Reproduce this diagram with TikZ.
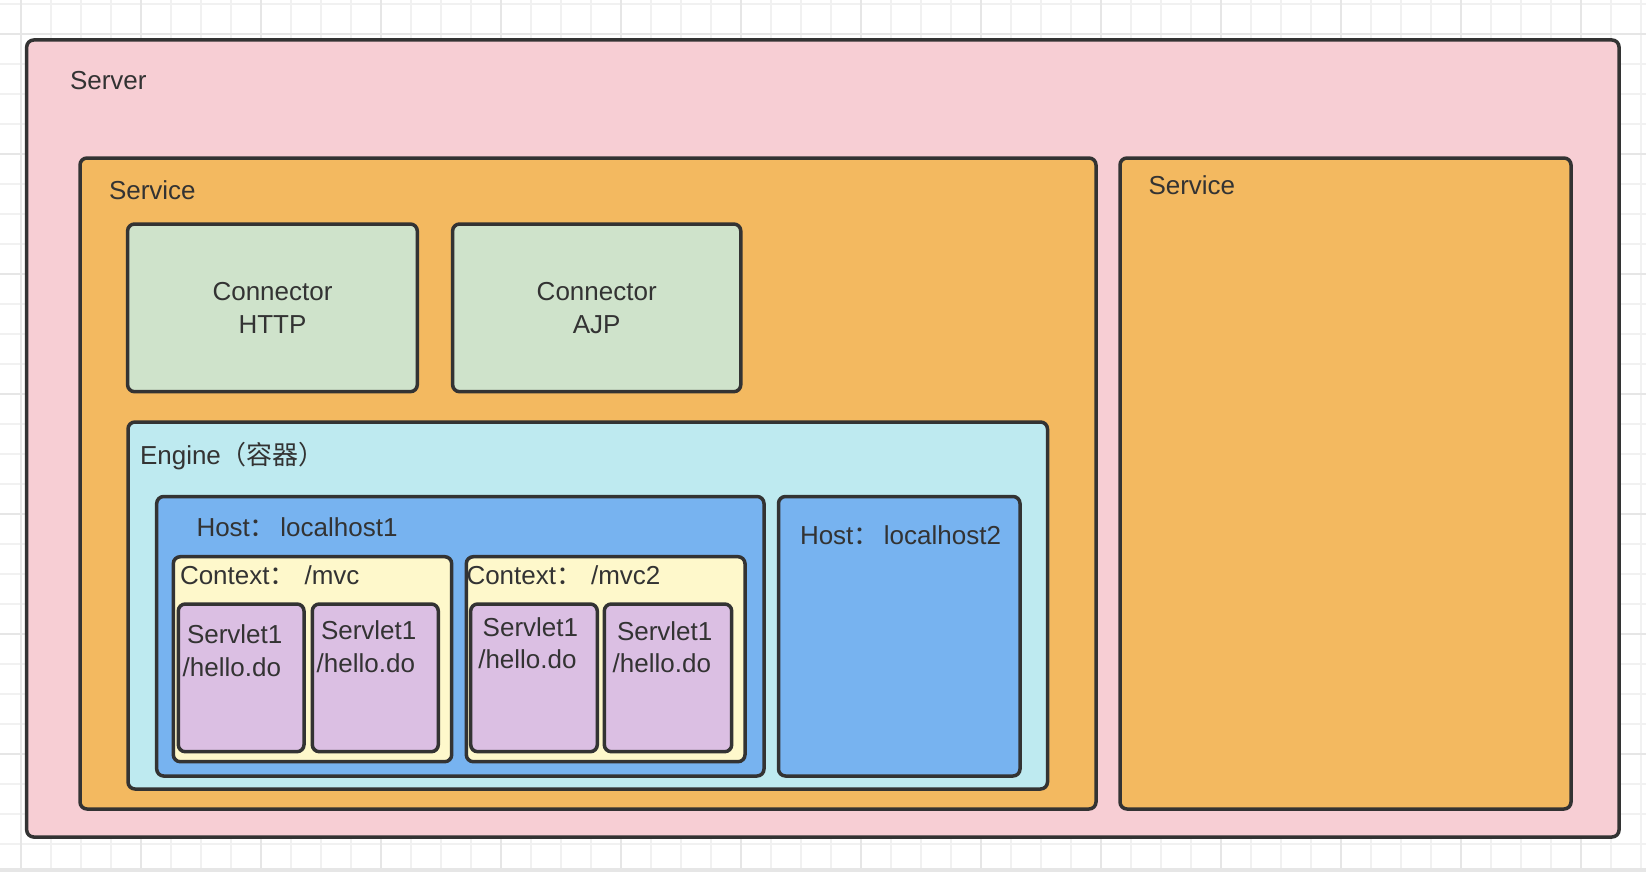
\documentclass[tikz,border=0pt]{standalone}
\usepackage{fontspec}
\setmainfont{Liberation Sans}
\newfontfamily\cjk{Noto Sans CJK SC}
\usetikzlibrary{fit}
\definecolor{edge}{HTML}{333333}
\definecolor{cServer}{HTML}{F7CED4}
\definecolor{cService}{HTML}{F3B960}
\definecolor{cConn}{HTML}{CFE3CB}
\definecolor{cEngine}{HTML}{BEEAF0}
\definecolor{cHost}{HTML}{77B3F0}
\definecolor{cCtx}{HTML}{FEF8CB}
\definecolor{cServlet}{HTML}{DBBFE3}
\definecolor{gridthin}{HTML}{F1F1F1}
\definecolor{gridthick}{HTML}{E6E6E6}
\begin{document}
\begin{tikzpicture}[x=1pt,y=-1pt,
  box/.style={draw=edge, line width=3.5pt, rounded corners=7pt, inner sep=0pt, outer sep=0pt},
  lbl/.style={text=edge, inner sep=0pt, outer sep=0pt, font=\fontsize{26}{31}\selectfont},
  thinline/.style={draw=gridthin, line width=1.6pt},
  thickline/.style={draw=gridthick, line width=2.2pt}]
\useasboundingbox (0,0) rectangle (1646,872);
\fill[white] (0,0) rectangle (1646,872);
% background grid
\foreach \x in {20.7,50.7,...,1646} {\draw[thinline] (\x,0) -- (\x,872);}
\foreach \y in {4,34,...,872} {\draw[thinline] (0,\y) -- (1646,\y);}
\foreach \x in {20.7,140.7,...,1646} {\draw[thickline] (\x,0) -- (\x,872);}
\foreach \y in {34,154,...,872} {\draw[thickline] (0,\y) -- (1646,\y);}
\fill[gridthick] (0,868) rectangle (1646,872);
% boxes
\node[box, fill=cServer, fit={(26.7,40) (1619,837)}] (server) {};
\node[box, fill=cService, fit={(80,158) (1096,809)}] (svc1) {};
\node[box, fill=cService, fit={(1120,158) (1571,809)}] (svc2) {};
\node[box, fill=cConn, fit={(127.6,224) (417.3,391.7)}] (connHttp) {};
\node[box, fill=cConn, fit={(452.6,224) (740.8,391.7)}] (connAjp) {};
\node[box, fill=cEngine, fit={(128,422) (1047.5,789)}] (engine) {};
\node[box, fill=cHost, fit={(156.7,496.5) (764,776)}] (host1) {};
\node[box, fill=cHost, fit={(778.5,496.5) (1020,776)}] (host2) {};
\node[box, fill=cCtx, fit={(173.3,556.7) (451.7,761.7)}] (ctx1) {};
\node[box, fill=cCtx, fit={(466.3,556.7) (745,761.7)}] (ctx2) {};
\node[box, fill=cServlet, fit={(178.3,604) (304,751.7)}] (s1) {};
\node[box, fill=cServlet, fit={(312.3,604) (438.3,751.7)}] (s2) {};
\node[box, fill=cServlet, fit={(470.7,604) (597.3,751.7)}] (s3) {};
\node[box, fill=cServlet, fit={(604.3,604) (731.7,751.7)}] (s4) {};
% labels
\node[lbl, anchor=base west] (tServer) at (70,89.3) {Server};
\node[lbl, anchor=base west] (tSvc1) at (109,199.3) {Service};
\node[lbl, anchor=base west] (tSvc2) at (1148.5,194) {Service};
\node[lbl, anchor=base] (tHttpA) at (272.5,300) {Connector};
\node[lbl, anchor=base] (tHttpB) at (272.5,333.3) {HTTP};
\node[lbl, anchor=base] (tAjpA) at (596.7,300) {Connector};
\node[lbl, anchor=base] (tAjpB) at (596.7,333.3) {AJP};
\node[lbl, anchor=base west] (tEngine) at (140,464) {Engine{\cjk （容器）}};
\node[lbl, anchor=base west] (tHost1) at (196.5,536.7) {Host{\cjk ：}\hspace{4.5pt}localhost1};
\node[lbl, anchor=base west] (tHost2) at (800,544) {Host{\cjk ：}\hspace{4.5pt}localhost2};
\node[lbl, anchor=base west] (tCtx1) at (180,584) {Context{\cjk ：}\hspace{9pt}/mvc};
\node[lbl, anchor=base west] (tCtx2) at (466.5,584) {Context{\cjk ：}\hspace{9pt}/mvc2};
\node[lbl, anchor=base west] (tS1a) at (187,643.3) {Servlet1};
\node[lbl, anchor=base west] (tS1b) at (182.7,676) {/hello.do};
\node[lbl, anchor=base west] (tS2a) at (321,639.3) {Servlet1};
\node[lbl, anchor=base west] (tS2b) at (316.7,672.7) {/hello.do};
\node[lbl, anchor=base west] (tS3a) at (482.7,636) {Servlet1};
\node[lbl, anchor=base west] (tS3b) at (478.3,668.3) {/hello.do};
\node[lbl, anchor=base west] (tS4a) at (617,640) {Servlet1};
\node[lbl, anchor=base west] (tS4b) at (612.7,672.7) {/hello.do};
\end{tikzpicture}
\end{document}
